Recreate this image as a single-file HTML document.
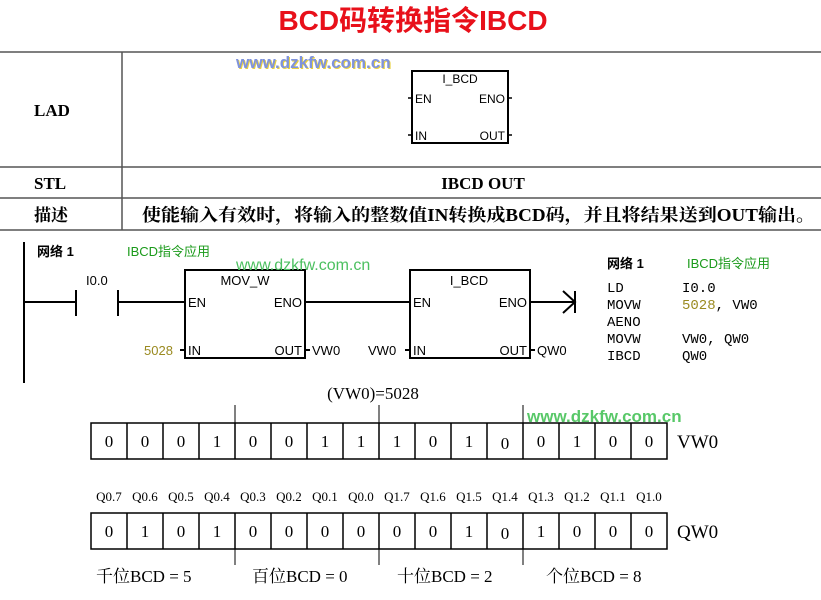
<!DOCTYPE html>
<html><head><meta charset="utf-8"><style>
body{margin:0;background:#fff;width:821px;height:600px;overflow:hidden}
svg{display:block}
.s{font-family:"Liberation Serif","Noto Serif CJK SC",serif}
.a{font-family:"Liberation Sans","Noto Sans CJK SC",sans-serif}
.m{font-family:"Liberation Mono",monospace}
</style></head><body>
<svg width="821" height="600" viewBox="0 0 821 600">
<text x="413" y="30" text-anchor="middle" class="a" font-size="28" font-weight="bold" fill="#e8101a">BCD码转换指令IBCD</text>
<g stroke="#555" stroke-width="1.5">
<line x1="0" y1="52" x2="821" y2="52"/><line x1="0" y1="167" x2="821" y2="167"/>
<line x1="0" y1="198" x2="821" y2="198"/><line x1="0" y1="230" x2="821" y2="230"/>
<line x1="122" y1="52" x2="122" y2="230"/></g>
<text x="34" y="116" class="s" font-size="17" font-weight="bold">LAD</text>
<text x="34" y="189" class="s" font-size="17" font-weight="bold">STL</text>
<text x="34" y="221" class="s" font-size="17" font-weight="bold">描述</text>
<text x="483" y="189" text-anchor="middle" class="s" font-size="17" font-weight="bold">IBCD  OUT</text>
<text x="142" y="221" class="s" font-size="17.5" font-weight="bold" textLength="673" lengthAdjust="spacingAndGlyphs">使能输入有效时，将输入的整数值IN转换成BCD码，并且将结果送到OUT输出。</text>
<text x="237" y="69" class="a" font-size="17" font-weight="bold" fill="#e8d040">www.dzkfw.com.cn</text>
<text x="236" y="68" class="a" font-size="17" font-weight="bold" fill="#7f93dc">www.dzkfw.com.cn</text>
<rect x="412" y="71" width="96" height="72" fill="none" stroke="#000" stroke-width="2"/>
<g stroke="#000" stroke-width="1.5"><line x1="408" y1="98" x2="412" y2="98"/><line x1="408" y1="135" x2="412" y2="135"/><line x1="508" y1="98" x2="512" y2="98"/><line x1="508" y1="135" x2="512" y2="135"/></g>
<g class="a" font-size="12"><text x="460" y="83" text-anchor="middle">I_BCD</text><text x="415" y="103">EN</text><text x="415" y="140">IN</text><text x="505" y="103" text-anchor="end">ENO</text><text x="505" y="140" text-anchor="end">OUT</text></g>
<line x1="24" y1="242" x2="24" y2="383" stroke="#000" stroke-width="2"/>
<text x="37" y="256" class="a" font-size="13" font-weight="bold">网络 1</text>
<text x="127" y="256" class="a" font-size="13" fill="#1a9a1a">IBCD指令应用</text>
<text x="86" y="285" class="a" font-size="13">I0.0</text>
<g stroke="#000" stroke-width="2" fill="none">
<line x1="24" y1="302" x2="76" y2="302"/><line x1="76" y1="290" x2="76" y2="316"/><line x1="118" y1="290" x2="118" y2="316"/>
<line x1="118" y1="302" x2="185" y2="302"/><line x1="305" y1="302" x2="410" y2="302"/><line x1="530" y1="302" x2="575" y2="302"/>
<polyline points="563,291 575,302 563,313"/><line x1="575" y1="291" x2="575" y2="313"/>
<rect x="185" y="270" width="120" height="88"/><rect x="410" y="270" width="120" height="88"/>
<line x1="180" y1="350" x2="185" y2="350"/><line x1="305" y1="350" x2="310" y2="350"/><line x1="405" y1="350" x2="410" y2="350"/><line x1="530" y1="350" x2="535" y2="350"/>
</g>
<g class="a" font-size="13">
<text x="245" y="285" text-anchor="middle">MOV_W</text><text x="469" y="285" text-anchor="middle">I_BCD</text>
<text x="188" y="307">EN</text><text x="302" y="307" text-anchor="end">ENO</text><text x="188" y="355">IN</text><text x="302" y="355" text-anchor="end">OUT</text>
<text x="413" y="307">EN</text><text x="527" y="307" text-anchor="end">ENO</text><text x="413" y="355">IN</text><text x="527" y="355" text-anchor="end">OUT</text>
<text x="144" y="355" fill="#9a8a20">5028</text><text x="312" y="355">VW0</text><text x="368" y="355">VW0</text><text x="537" y="355">QW0</text>
</g>
<text x="236" y="270" class="a" font-size="16" fill="#4cc060">www.dzkfw.com.cn</text>
<text x="607" y="268" class="a" font-size="13" font-weight="bold">网络 1</text>
<text x="687" y="268" class="a" font-size="13" fill="#1a9a1a">IBCD指令应用</text>
<g class="m" font-size="14"><text x="607" y="292">LD</text><text x="682" y="292">I0.0</text>
<text x="607" y="309">MOVW</text><text x="682" y="309"><tspan fill="#9a8a20">5028</tspan>, VW0</text>
<text x="607" y="326">AENO</text><text x="607" y="343">MOVW</text><text x="682" y="343">VW0, QW0</text>
<text x="607" y="360">IBCD</text><text x="682" y="360">QW0</text></g>
<text x="373" y="399" text-anchor="middle" class="s" font-size="17">(VW0)=5028</text>
<text x="527" y="422" class="a" font-size="17" font-weight="bold" fill="#58c868">www.dzkfw.com.cn</text>
<g stroke="#000" stroke-width="1.5" fill="none">
<rect x="91" y="423" width="576" height="36"/><rect x="91" y="513" width="576" height="36"/>
<path d="M127 423V459M163 423V459M199 423V459M235 423V459M271 423V459M307 423V459M343 423V459M379 423V459M415 423V459M451 423V459M487 423V459M523 423V459M559 423V459M595 423V459M631 423V459"/>
<path d="M127 513V549M163 513V549M199 513V549M235 513V549M271 513V549M307 513V549M343 513V549M379 513V549M415 513V549M451 513V549M487 513V549M523 513V549M559 513V549M595 513V549M631 513V549"/>
<path d="M235 405V423M379 405V423M523 405V423M235 549V565M379 549V565M523 549V565" stroke-width="1"/>
</g>
<g class="s" font-size="17" text-anchor="middle">
<text x="109" y="447">0</text><text x="145" y="447">0</text><text x="181" y="447">0</text><text x="217" y="447">1</text><text x="253" y="447">0</text><text x="289" y="447">0</text><text x="325" y="447">1</text><text x="361" y="447">1</text><text x="397" y="447">1</text><text x="433" y="447">0</text><text x="469" y="447">1</text><text x="505" y="449">0</text><text x="541" y="447">0</text><text x="577" y="447">1</text><text x="613" y="447">0</text><text x="649" y="447">0</text>
<text x="109" y="537">0</text><text x="145" y="537">1</text><text x="181" y="537">0</text><text x="217" y="537">1</text><text x="253" y="537">0</text><text x="289" y="537">0</text><text x="325" y="537">0</text><text x="361" y="537">0</text><text x="397" y="537">0</text><text x="433" y="537">0</text><text x="469" y="537">1</text><text x="505" y="539">0</text><text x="541" y="537">1</text><text x="577" y="537">0</text><text x="613" y="537">0</text><text x="649" y="537">0</text>
</g>
<text x="677" y="448" class="s" font-size="19">VW0</text>
<text x="677" y="538" class="s" font-size="19">QW0</text>
<g class="s" font-size="13" text-anchor="middle">
<text x="109" y="501">Q0.7</text><text x="145" y="501">Q0.6</text><text x="181" y="501">Q0.5</text><text x="217" y="501">Q0.4</text><text x="253" y="501">Q0.3</text><text x="289" y="501">Q0.2</text><text x="325" y="501">Q0.1</text><text x="361" y="501">Q0.0</text><text x="397" y="501">Q1.7</text><text x="433" y="501">Q1.6</text><text x="469" y="501">Q1.5</text><text x="505" y="501">Q1.4</text><text x="541" y="501">Q1.3</text><text x="577" y="501">Q1.2</text><text x="613" y="501">Q1.1</text><text x="649" y="501">Q1.0</text>
</g>
<g class="s" font-size="17">
<text x="96" y="582">千位BCD = 5</text><text x="252" y="582">百位BCD = 0</text><text x="397" y="582">十位BCD = 2</text><text x="546" y="582">个位BCD = 8</text>
</g>
</svg>
</body></html>
